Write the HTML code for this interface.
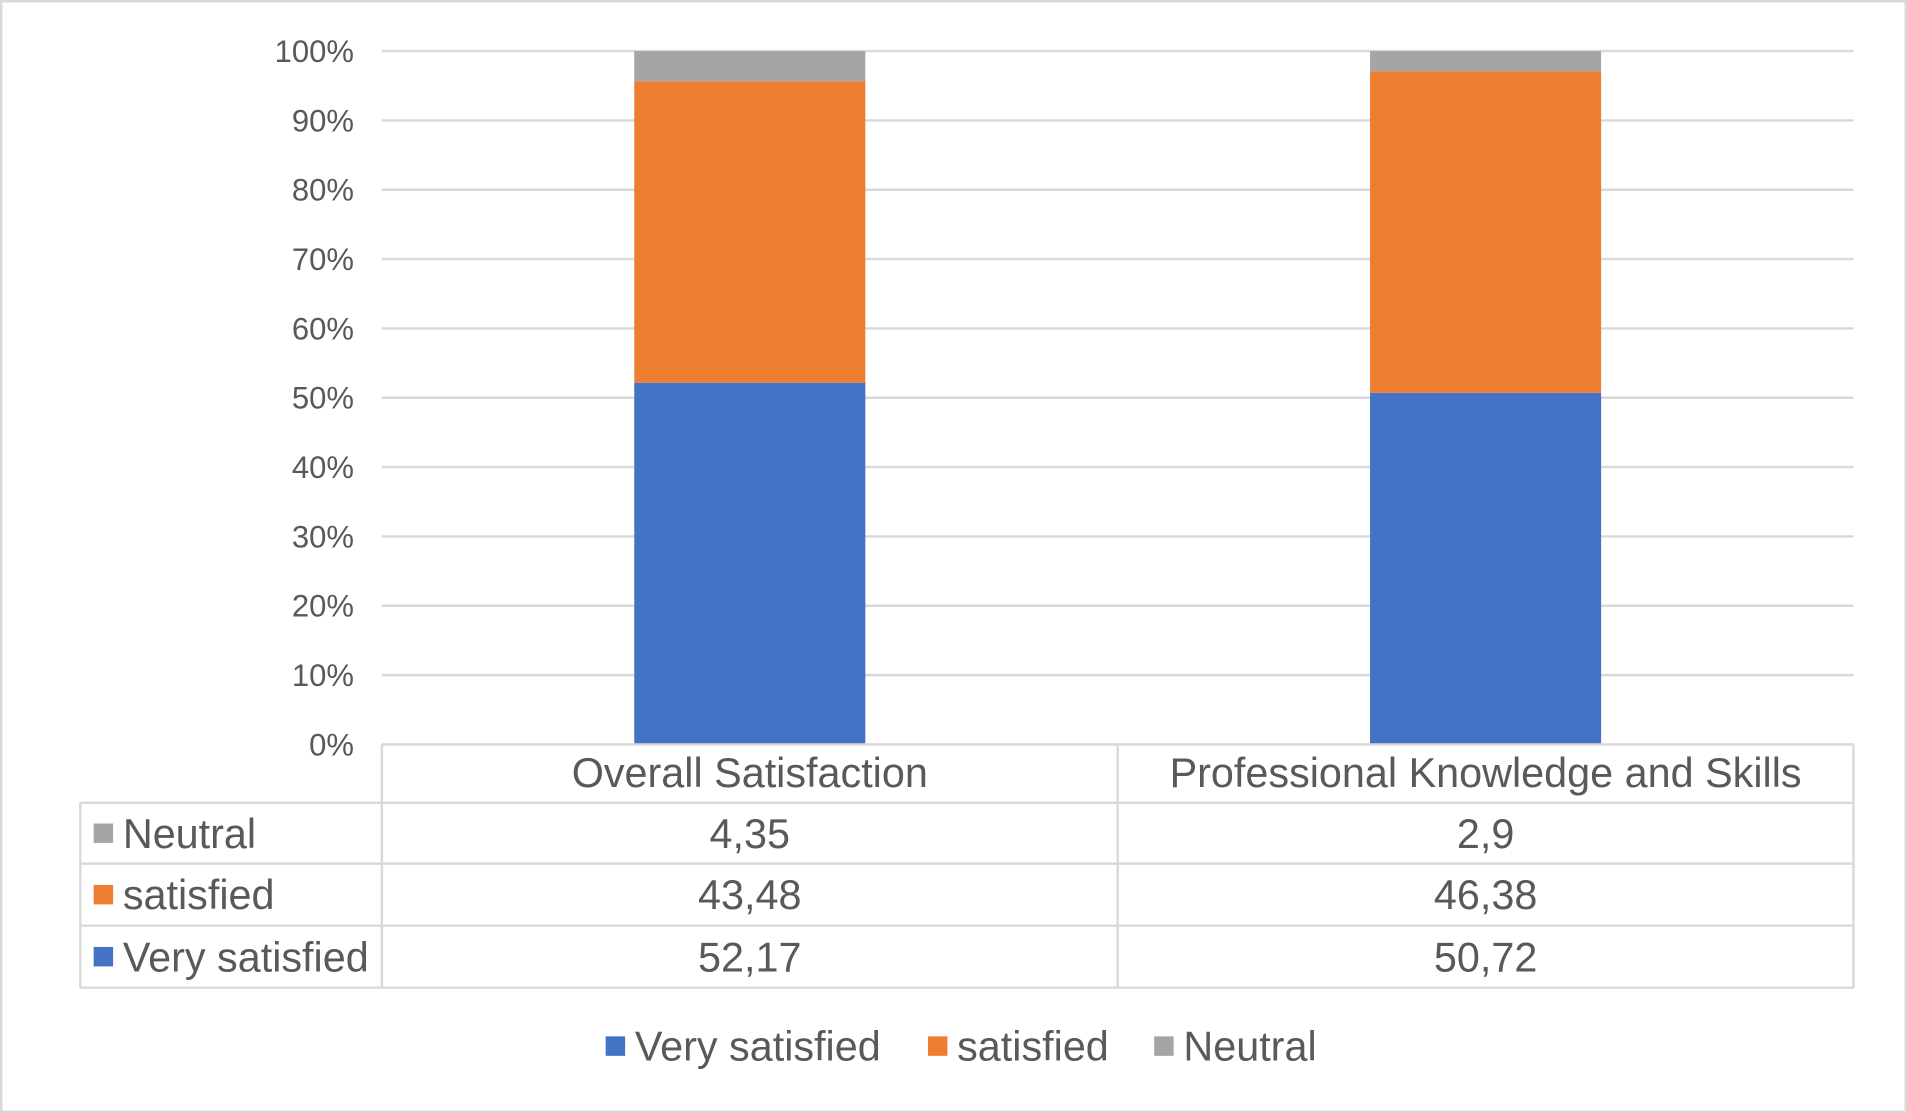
<!DOCTYPE html>
<html><head><meta charset="utf-8"><style>
html,body{margin:0;padding:0;background:#fff}
svg{display:block;font-family:"Liberation Sans",Arial,sans-serif}
</style></head><body>
<svg id="chart" width="1907" height="1113" viewBox="0 0 1568 915" preserveAspectRatio="none">
<rect x="1" y="1" width="1566" height="913" fill="#fff" stroke="#d9d9d9" stroke-width="2"/>
<g id="grid"></g><g id="bars"></g><g id="yticks"></g><g id="table"></g><g id="legend"></g>
</svg>
<script>
const categories=["Overall Satisfaction","Professional Knowledge and Skills"];
const seriesNames=["Very satisfied","satisfied","Neutral"];
const verySatisfied=[52.17,50.72];
const satisfied=[43.48,46.38];
const neutral=[4.35,2.9];
const tableLabels=[["4,35","2,9"],["43,48","46,38"],["52,17","50,72"]];
const yTicks=[0,10,20,30,40,50,60,70,80,90,100];
const colors=["#4472c4","#ed7d31","#a5a5a5"];
const NS="http://www.w3.org/2000/svg";
const L=314,R=1524,T=42,B=612;
const y=v=>B-(v/100)*(B-T);
const colW=(R-L)/categories.length;
const FS=34;
function mk(tag,attrs,parent,text){const e=document.createElementNS(NS,tag);for(const k in attrs)e.setAttribute(k,attrs[k]);if(text!==undefined)e.textContent=text;document.getElementById(parent).appendChild(e);return e;}
yTicks.forEach(t=>{
 const l=mk('line',{x1:L,x2:R,y1:y(t),y2:y(t),stroke:'#d9d9d9','stroke-width':2},'grid');
 
 
 const tx=mk('text',{x:291,y:y(t)+9,'text-anchor':'end','font-size':25.5,fill:'#595959'},'yticks',t+'%');
 
 
});
const series=[verySatisfied,satisfied,neutral];
categories.forEach((c,i)=>{
 const cx=L+colW*(i+0.5);let acc=0;
 series.forEach((s,j)=>{
  const r=mk('rect',{x:cx-95,y:y(acc+s[i]),width:190,height:y(acc)-y(acc+s[i]),fill:colors[j]},'bars');
  
  
  acc+=s[i];
 });
});
const rowsY=[612,660,710,761,812];
const tl=66;
const g='table';
function ln(x1,y1,x2,y2){const l=mk('line',{x1,y1,x2,y2,stroke:'#d9d9d9','stroke-width':2},g);}
ln(L,612,R,612);
for(let k=1;k<rowsY.length;k++) ln(tl,rowsY[k],R,rowsY[k]);
ln(tl,660,tl,812);
for(let i=0;i<=categories.length;i++) ln(L+colW*i,612,L+colW*i,812);
categories.forEach((c,i)=>{
 const t=mk('text',{x:L+colW*(i+0.5),y:647,'text-anchor':'middle','font-size':FS,fill:'#595959'},g,c);
 
 
});
const rowSeries=[2,1,0];
rowSeries.forEach((si,r)=>{
 const yc=(rowsY[r+1]+rowsY[r+2])/2;
 const sw=mk('rect',{x:77,y:yc-8,width:16,height:16,fill:colors[si]},g);
 
 
 const lt=mk('text',{x:101,y:yc+12,'font-size':FS,fill:'#595959'},g,seriesNames[si]);
 
 
 categories.forEach((c,i)=>{
  const v=mk('text',{x:L+colW*(i+0.5),y:yc+12,'text-anchor':'middle','font-size':FS,fill:'#595959'},g,tableLabels[r][i]);
  
  
 });
});
const lx=[498,763,949];
seriesNames.forEach((n,j)=>{
 const s=mk('rect',{x:lx[j],y:852,width:16,height:16,fill:colors[j]},'legend');
 
 
 const t=mk('text',{x:lx[j]+24,y:872,'font-size':FS,fill:'#595959'},'legend',n);
 
 
});
</script>
</body></html>
